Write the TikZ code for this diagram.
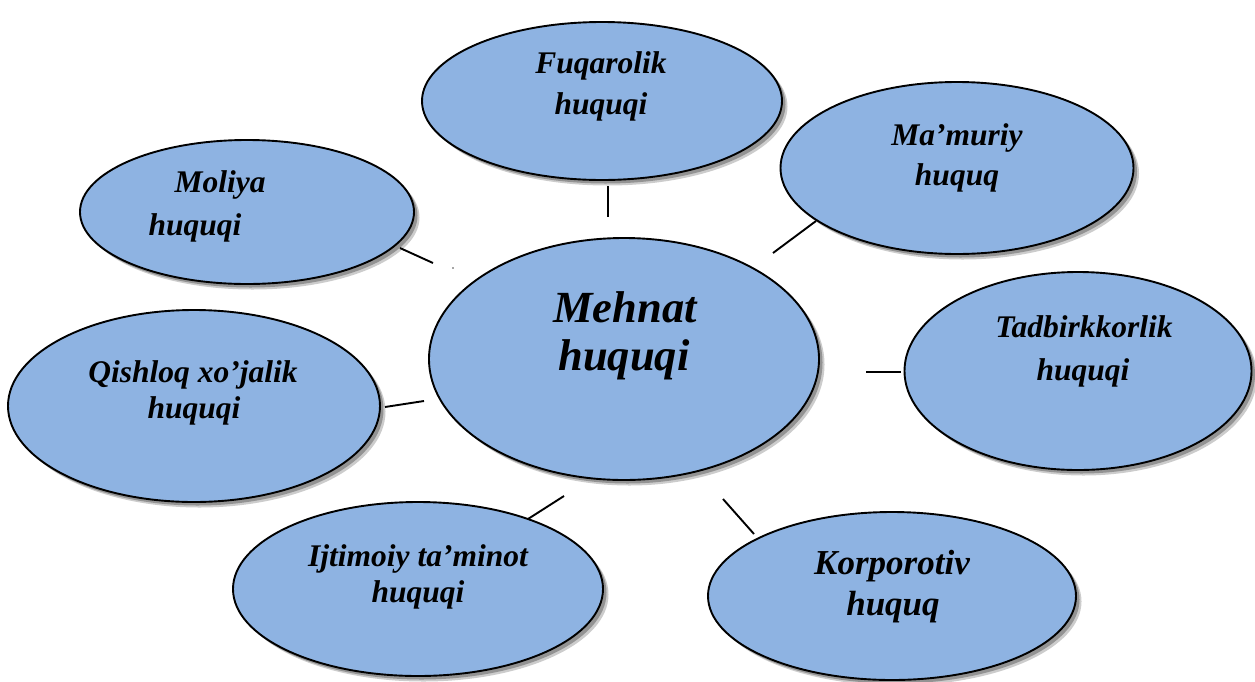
\documentclass[tikz,border=0pt]{standalone}
\usepackage{fontspec}
\setmainfont{Liberation Serif}
\usetikzlibrary{shapes.geometric}
\definecolor{bubble}{RGB}{142,179,226}
\newcommand\mkbubble[5]{%
  \node[shdout, minimum width=#4pt, minimum height=#5pt] (#1so) at (#2+5.5,#3+5.5) {};
  \node[shdin, minimum width=#4pt, minimum height=#5pt] (#1si) at (#2+3.5,#3+3.5) {};
  \node[bub, minimum width=#4pt, minimum height=#5pt] (#1) at (#2,#3) {};}
\begin{document}
\begin{tikzpicture}[x=1pt,y=-1pt,
  bub/.style={ellipse, draw=black, line width=1.9pt, fill=bubble, inner sep=0pt},
  shdout/.style={ellipse, fill=gray!40, draw=none, inner sep=0pt},
  shdin/.style={ellipse, fill=gray!85, draw=none, inner sep=0pt},
  lbl/.style={anchor=base, inner sep=0pt, font=\fontsize{31.5}{36}\selectfont\bfseries\itshape},
  lblw/.style={anchor=base, inner sep=0pt, font=\fontsize{35}{40}\selectfont\bfseries\itshape},
  big/.style={anchor=base, inner sep=0pt, font=\fontsize{44.5}{50}\selectfont\bfseries\itshape},
  conn/.style={line width=1.9pt, draw=black}]
\useasboundingbox (0,0) rectangle (1255,681);
\fill[white] (0,0) rectangle (1255,681);

\mkbubble{fuq}{602}{101}{360}{158}
\mkbubble{mam}{957}{168}{353}{172}
\mkbubble{mol}{247}{212}{334}{144}
\mkbubble{meh}{624}{359}{390}{242}
\mkbubble{tad}{1078}{371}{347}{198}
\mkbubble{qis}{194}{406}{372}{192}
\mkbubble{ijt}{418}{589}{370}{174}
\mkbubble{kor}{892}{596}{368}{168}

\node[lbl] (fuq1) at (601,73) {Fuqarolik};
\node[lbl] (fuq2) at (601,114) {huquqi};
\node[lbl] (mam1) at (957,145) {Ma’muriy};
\node[lbl] (mam2) at (957,185) {huquq};
\node[lbl] (mol1) at (220,192) {Moliya};
\node[lbl] (mol2) at (195,235) {huquqi};
\node[big] (meh1) at (625,322) {Mehnat};
\node[big] (meh2) at (624,370) {huquqi};
\node[lbl] (tad1) at (1084,337) {Tadbirkkorlik};
\node[lbl] (tad2) at (1083,380) {huquqi};
\node[lbl] (qis1) at (193,382) {Qishloq xo’jalik};
\node[lbl] (qis2) at (194,418) {huquqi};
\node[lbl] (ijt1) at (418,566) {Ijtimoiy ta’minot};
\node[lbl] (ijt2) at (418,602) {huquqi};
\node[lblw] (kor1) at (892,574) {Korporotiv};
\node[lblw] (kor2) at (893,615) {huquq};

\coordinate (fa) at (608,186); \coordinate (fb) at (608,217);
\coordinate (ma) at (816,221); \coordinate (mb) at (773,253);
\coordinate (la) at (400,248); \coordinate (lb) at (433,263);
\coordinate (ld) at (453,268);
\coordinate (ta) at (866,372); \coordinate (tb) at (901,372);
\coordinate (qa) at (385,407); \coordinate (qb) at (424,401);
\coordinate (ia) at (528,519); \coordinate (ib) at (564,496);
\coordinate (ka) at (723,499); \coordinate (kb) at (754,534);

\draw[conn] (fa) -- (fb);
\draw[conn] (ma) -- (mb);
\draw[conn] (la) -- (lb);
\fill[black!70] (ld) circle (0.9);
\draw[conn] (ta) -- (tb);
\draw[conn] (qa) -- (qb);
\draw[conn] (ia) -- (ib);
\draw[conn] (ka) -- (kb);
\end{tikzpicture}
\end{document}
